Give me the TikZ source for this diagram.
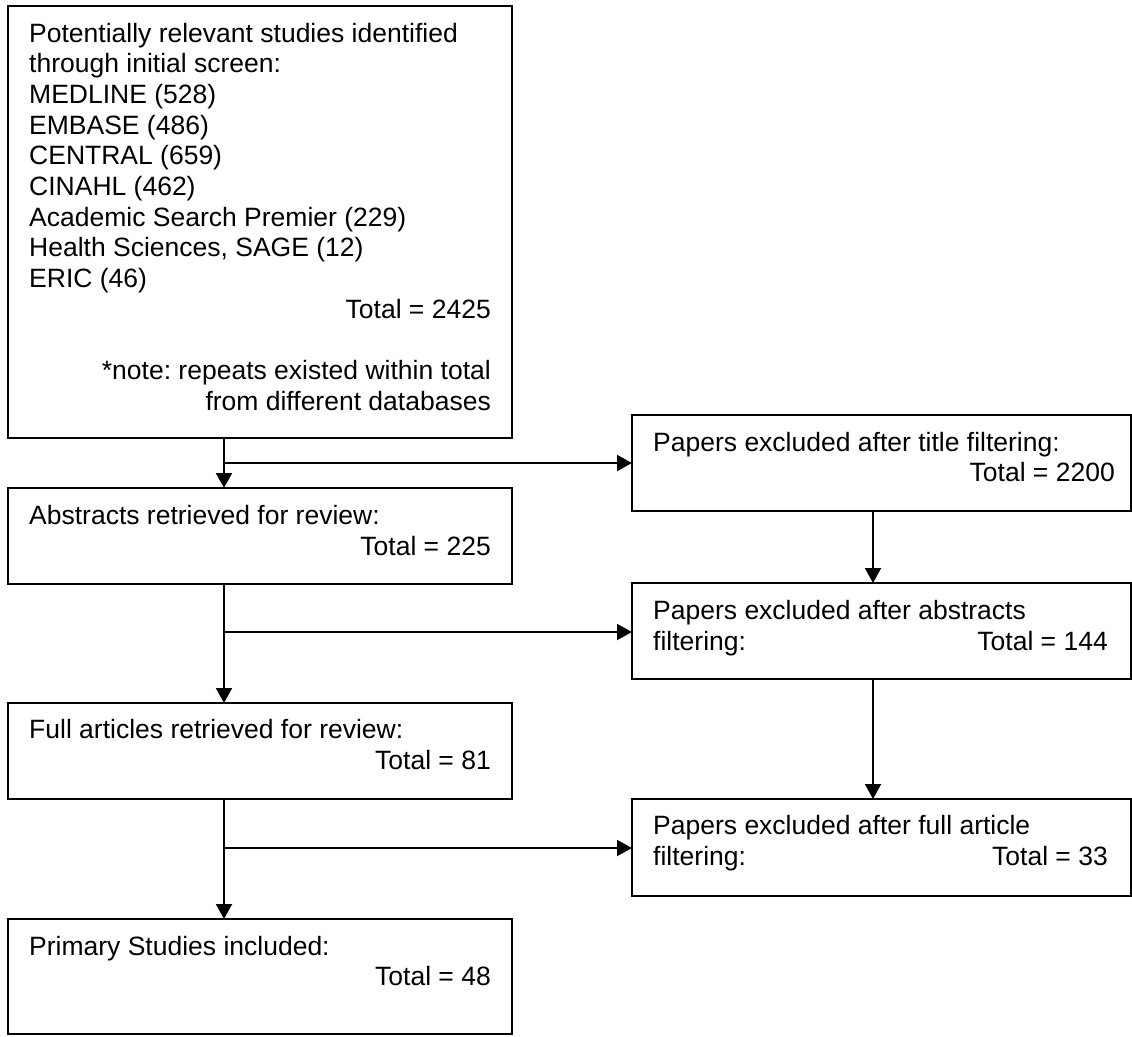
\documentclass[tikz,border=0pt]{standalone}
\usepackage{fontspec}
\setmainfont{Liberation Sans}
\usetikzlibrary{arrows.meta}
\frenchspacing
\begin{document}
\begin{tikzpicture}[x=1pt,y=-1pt,
  box/.style={draw=black,line width=2pt,anchor=north west,inner sep=0pt,outer sep=0pt},
  txt/.style={inner sep=0pt,font=\fontsize{26.5}{30.7}\selectfont,anchor=base west},
  txtr/.style={txt,anchor=base east},
  arr/.style={line width=2pt,-{Triangle[width=16pt,length=15pt]}}]
\useasboundingbox (0,0) rectangle (1132,1036);
\clip (0,0) rectangle (1132,1036);
% boxes
\node[box,minimum width=504pt,minimum height=432pt] (b1) at (8,6) {};
\node[box,minimum width=504pt,minimum height=96pt] (b2) at (8,488) {};
\node[box,minimum width=504pt,minimum height=96pt] (b3) at (8,703) {};
\node[box,minimum width=504pt,minimum height=115pt] (b4) at (8,919) {};
\node[box,minimum width=499pt,minimum height=96pt] (bA) at (632,415) {};
\node[box,minimum width=499pt,minimum height=96pt] (bB) at (632,583) {};
\node[box,minimum width=499pt,minimum height=97pt] (bC) at (632,799) {};
% box 1 text
\foreach \t [count=\i from 0] in {Potentially relevant studies identified,through initial screen:,MEDLINE (528),EMBASE (486),CENTRAL (659),CINAHL (462),Academic Search Premier (229),{Health Sciences, SAGE (12)},ERIC (46)}
  \node[txt] (t1-\i) at (29,42+30.7*\i) {\t};
\node[txtr] (t1-tot) at (491,318.3) {Total = 2425};
\node[txtr] (t1-n1) at (491,379.7) {*note: repeats existed within total};
\node[txtr] (t1-n2) at (491,410.4) {from different databases};
% box 2
\node[txt] (t2a) at (29,524) {Abstracts retrieved for review:};
\node[txtr] (t2b) at (491,555) {Total = 225};
% box 3
\node[txt] (t3a) at (29,738) {Full articles retrieved for review:};
\node[txtr] (t3b) at (491,769) {Total = 81};
% box 4
\node[txt] (t4a) at (29,955) {Primary Studies included:};
\node[txtr] (t4b) at (491,985) {Total = 48};
% box A
\node[txt] (tAa) at (653,451) {Papers excluded after title filtering:};
\node[txtr] (tAb) at (1115,481) {Total = 2200};
% box B
\node[txt] (tBa) at (653,619) {Papers excluded after abstracts};
\node[txt] (tBb) at (653,650) {filtering:};
\node[txtr] (tBc) at (1108,650) {Total = 144};
% box C
\node[txt] (tCa) at (653,834) {Papers excluded after full article};
\node[txt] (tCb) at (653,865) {filtering:};
\node[txtr] (tCc) at (1108,865) {Total = 33};
% connectors
\coordinate (cl) at (224,0);
\coordinate (cr) at (873,0);
\coordinate (j1) at (224,463);
\coordinate (j2) at (224,632);
\coordinate (j3) at (224,848);
\draw[arr] (b1.south -| cl) -- (b2.north -| cl);
\draw[arr] (b2.south -| cl) -- (b3.north -| cl);
\draw[arr] (b3.south -| cl) -- (b4.north -| cl);
\draw[arr] (j1) -- (bA.west |- j1);
\draw[arr] (j2) -- (bB.west |- j2);
\draw[arr] (j3) -- (bC.west |- j3);
\draw[arr] (bA.south -| cr) -- (bB.north -| cr);
\draw[arr] (bB.south -| cr) -- (bC.north -| cr);
\end{tikzpicture}
\end{document}
